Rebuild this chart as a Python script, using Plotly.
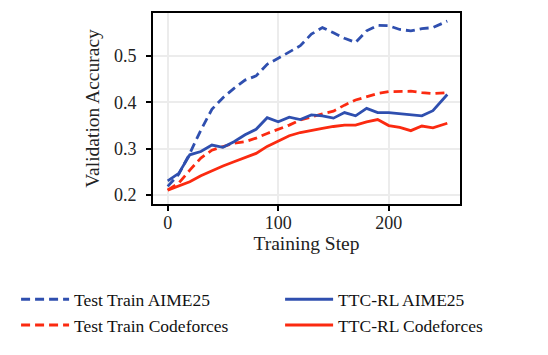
import plotly.graph_objects as go

# training steps (x) shared by all series
steps = [0, 10, 20, 30, 40, 50, 60, 70, 80, 90, 100, 110, 120, 130, 140, 150,
         160, 170, 180, 190, 200, 210, 220, 230, 240, 253]

test_train_aime = [0.219, 0.245, 0.290, 0.340, 0.385, 0.410, 0.430, 0.448, 0.457, 0.482,
                   0.495, 0.508, 0.522, 0.547, 0.561, 0.550, 0.538, 0.529, 0.554, 0.566,
                   0.565, 0.557, 0.554, 0.559, 0.561, 0.575]
ttc_rl_aime = [0.231, 0.247, 0.287, 0.294, 0.308, 0.303, 0.315, 0.330, 0.342, 0.367,
               0.358, 0.368, 0.363, 0.373, 0.371, 0.366, 0.378, 0.371, 0.387, 0.378,
               0.378, 0.376, 0.374, 0.371, 0.382, 0.417]
test_train_cf = [0.211, 0.226, 0.254, 0.280, 0.297, 0.305, 0.312, 0.315, 0.323, 0.333,
                 0.342, 0.351, 0.362, 0.369, 0.375, 0.381, 0.394, 0.405, 0.412, 0.419,
                 0.423, 0.424, 0.424, 0.421, 0.419, 0.421]
ttc_rl_cf = [0.211, 0.220, 0.229, 0.242, 0.253, 0.263, 0.272, 0.281, 0.290, 0.305,
             0.317, 0.328, 0.335, 0.340, 0.344, 0.348, 0.351, 0.351, 0.358, 0.363,
             0.350, 0.346, 0.339, 0.349, 0.345, 0.355]

BLUE = "#2f4faf"
RED = "#fb2a10"
FONT = "Liberation Serif"
DASH = "9px,5px"

fig = go.Figure()

# left legend column: Test Train, right legend column: TTC-RL
series = [
    ("Test Train AIME25", test_train_aime, BLUE, DASH, "legend"),
    ("Test Train Codeforces", test_train_cf, RED, DASH, "legend"),
    ("TTC-RL AIME25", ttc_rl_aime, BLUE, "solid", "legend2"),
    ("TTC-RL Codeforces", ttc_rl_cf, RED, "solid", "legend2"),
]
for name, vals, color, dash, leg in series:
    fig.add_trace(
        go.Scatter(
            x=steps,
            y=vals,
            mode="lines",
            name=name,
            legend=leg,
            line=dict(color=color, width=2.8, dash=dash),
        )
    )

axis_common = dict(
    showline=True,
    mirror=True,
    linecolor="black",
    linewidth=2,
    ticks="outside",
    ticklen=5,
    tickwidth=2,
    tickcolor="black",
    showgrid=True,
    gridcolor="#ececec",
    gridwidth=2,
    zeroline=False,
    automargin=False,
    tickfont=dict(family=FONT, size=18, color="#222"),
)

fig.update_xaxes(
    range=[-13.3, 264.5],
    tickvals=[0, 100, 200],
    ticklabelstandoff=-4,
    title=dict(text="Training Step", font=dict(family=FONT, size=19.5, color="#222"), standoff=0),
    **axis_common,
)
fig.update_yaxes(
    range=[0.181, 0.5925],
    tickvals=[0.2, 0.3, 0.4, 0.5],
    tickformat=".1f",
    ticklabelstandoff=6,
    title=dict(text="Validation Accuracy", font=dict(family=FONT, size=19.5, color="#222"), standoff=9),
    **axis_common,
)

legend_common = dict(
    orientation="v",
    xanchor="left",
    y=-0.405,
    yanchor="top",
    itemwidth=48,
    tracegroupgap=0,
    bgcolor="rgba(0,0,0,0)",
    font=dict(family=FONT, size=17.5, color="#111"),
)

# page body adds an 8px offset, so margins are shifted to compensate
fig.update_layout(
    width=548,
    height=355,
    margin=dict(l=145, r=96, t=5, b=159, autoexpand=False),
    paper_bgcolor="white",
    plot_bgcolor="white",
    font=dict(family=FONT, size=17.5, color="#222"),
    legend=dict(x=-0.446, **legend_common),
    legend2=dict(x=0.414, **legend_common),
    showlegend=True,
)

fig.write_html("out.html")
